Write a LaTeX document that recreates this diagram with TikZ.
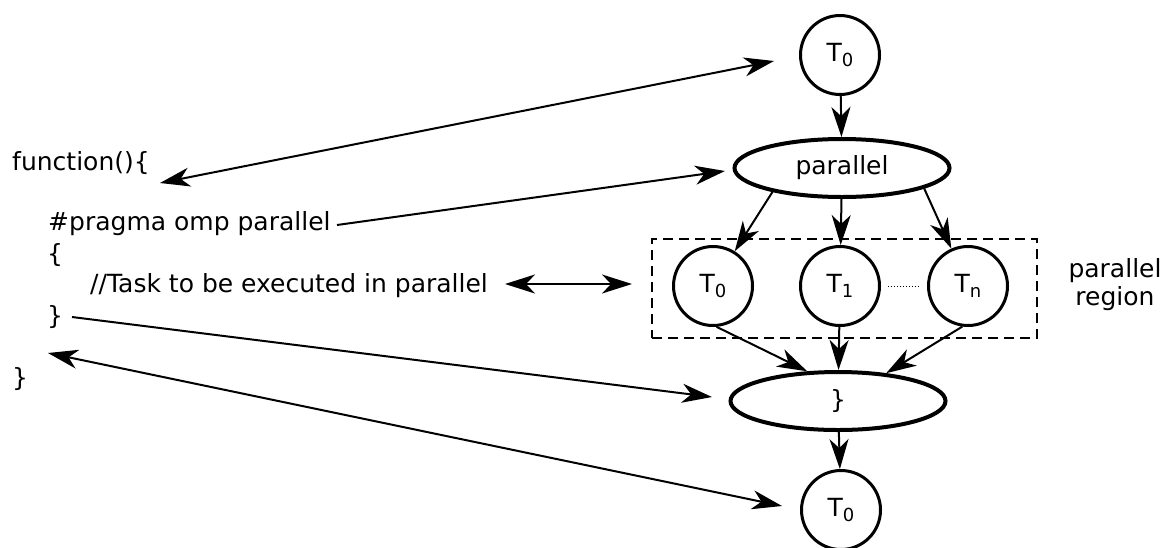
\documentclass[tikz,border=0pt]{standalone}
\usepackage{fontspec}
\setmainfont{DejaVu Sans}
\usetikzlibrary{arrows.meta,shapes.geometric}
\newcommand{\tsub}[1]{\raisebox{-5pt}{\fontsize{18}{18}\selectfont #1}}
\begin{document}
\begin{tikzpicture}[x=1pt,y=-1pt,
  every node/.style={font=\fontsize{25}{28}\selectfont},
  tnode/.style={circle,draw,line width=3pt,minimum size=79pt,inner sep=0pt},
  enode/.style={ellipse,draw,line width=4pt,minimum width=215pt,minimum height=58pt,inner sep=0pt},
  tip/.tip={Stealth[length=30pt,width=19pt,inset=9pt]},
  conn/.style={line width=2pt,-tip},
  bconn/.style={line width=2pt,tip-tip},
  code/.style={anchor=base west,inner sep=0pt},
  regionbox/.style={draw,line width=1.7pt,dash pattern=on 10pt off 6pt,minimum width=385pt,minimum height=99pt,inner sep=0pt}
]
\useasboundingbox (0,0) rectangle (1166,547);

% code text
\node[code] (fn)   at (12,170) {function()\{};
\node[code] (prag) at (48,230) {\#pragma omp parallel};
\node[code] (ob)   at (47,262) {\{};
\node[code] (task) at (90,292) {//Task to be executed in parallel};
\node[code] (cb)   at (47,324) {\}};
\node[code] (fcb)  at (12,386) {\}};

% graph
\node[regionbox] (region) at (844.5,288.5) {};
\node[align=center] (lab) at (1115,285) {parallel\\region};
\node[tnode] (t0a) at (840,55) {T\tsub{0}};
\node[enode] (par) at (842,168) {parallel};
\node[tnode] (r0) at (713,286) {T\tsub{0}};
\node[tnode] (r1) at (840,286) {T\tsub{1}};
\node[tnode] (rn) at (968,286) {T\tsub{n}};
\node[enode] (cls) at (838,401) {\raisebox{-3pt}{\}}};
\node[tnode] (t0b) at (841,510) {T\tsub{0}};

\draw[conn] (t0a) -- (par);
\draw[conn] (par.199) -- (r0.58);
\draw[conn] (par) -- (r1);
\draw[conn] (par.346) -- (rn.114);
\draw[conn] (r0.275) -- (cls.136);
\draw[conn] (r1) -- (cls);
\draw[conn] (rn.262) -- (cls.30);
\draw[conn] (cls) -- (t0b);
\draw[dotted,line width=1pt,shorten <=7pt,shorten >=8pt] (r1) -- (rn);

% code-to-graph connectors
\coordinate (fnA) at (160,183);
\coordinate (fnB) at (774,61);
\coordinate (prA) at (337,225);
\coordinate (prB) at (725,171);
\coordinate (tkA) at (505,284);
\coordinate (tkB) at (632,284);
\coordinate (cbA) at (72,317);
\coordinate (cbB) at (712,397);
\coordinate (fcA) at (48,353);
\coordinate (fcB) at (782,506);
\draw[bconn] (fnA) -- (fnB);
\draw[conn] (prA) -- (prB);
\draw[bconn] (tkA) -- (tkB);
\draw[conn] (cbA) -- (cbB);
\draw[bconn] (fcA) -- (fcB);
\end{tikzpicture}
\end{document}
